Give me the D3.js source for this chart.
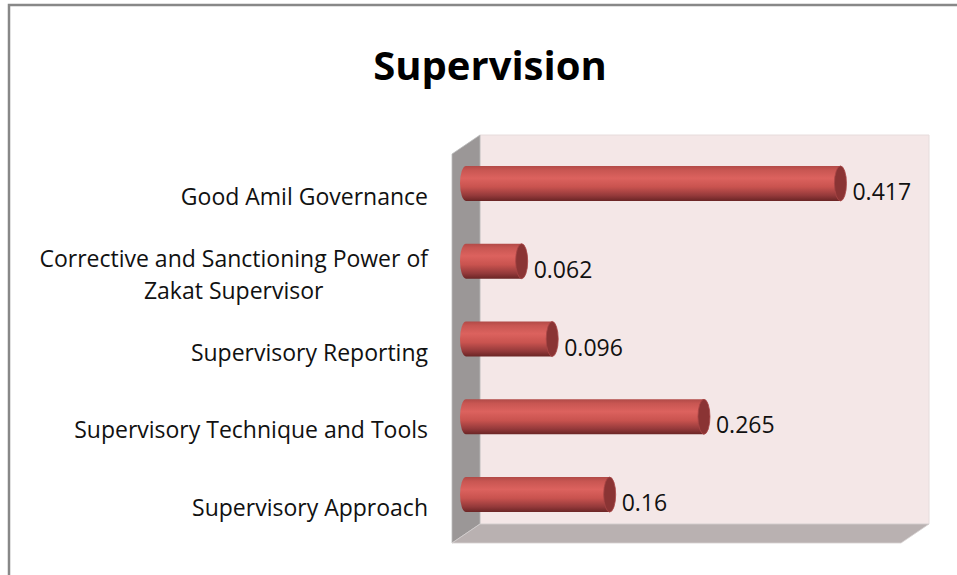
<!DOCTYPE html>
<html lang="en">
<head>
<meta charset="utf-8">
<title>Supervision</title>
<script src="https://d3js.org/d3.v7.min.js"></script>
<style>
  body { margin: 0; background: #fff; }
  .cat_label { font-family: "Open Sans"; font-size: 23px; fill: #111; }
  .val_label { font-family: "Open Sans"; font-size: 23px; fill: #111; }
  .title_styling { font-family: "Open Sans"; font-weight: 700; font-size: 40px; fill: #000; }
</style>
</head>
<body>
<div id="chart"></div>
<script>
const categories = [
  "Good Amil Governance",
  "Corrective and Sanctioning Power of|Zakat Supervisor",
  "Supervisory Reporting",
  "Supervisory Technique and Tools",
  "Supervisory Approach"
];
const values = [0.417, 0.062, 0.096, 0.265, 0.16];
const xDomain = [0, 0.5];

const width = 957, height = 575;
const plotLeft = 452, plotRight = 901, plotTop = 154, plotBottom = 543;
const depthX = 28, depthY = -19;
const barThick = 35, capRx = 6;

const svg = d3.select("#chart").append("svg")
  .attr("width", width).attr("height", height);

// outer frame
svg.append("rect")
  .attr("x", 9).attr("y", 5).attr("width", width + 10).attr("height", height + 10)
  .attr("fill", "#fff").attr("stroke", "#888").attr("stroke-width", 2.5);

const x = d3.scaleLinear().domain(xDomain).range([plotLeft, plotRight]);
const y = d3.scaleBand().domain(categories).range([plotTop, plotBottom]);

const defs = svg.append("defs");
const grad = defs.append("linearGradient").attr("id", "cyl")
  .attr("x1", 0).attr("y1", 0).attr("x2", 0).attr("y2", 1);
[[0, "#b14a47"], [0.12, "#c85652"], [0.35, "#dc625e"], [0.6, "#c9534f"], [0.85, "#93393a"], [1, "#6a2525"]]
  .forEach(s => grad.append("stop").attr("offset", s[0]).attr("stop-color", s[1]));

// walls
const x0 = x(xDomain[0]), x1 = x(xDomain[1]);
svg.append("polygon")
  .attr("points", [[x0 + depthX, plotTop + depthY], [x1 + depthX, plotTop + depthY], [x1 + depthX, plotBottom + depthY], [x0 + depthX, plotBottom + depthY]].join(" "))
  .attr("fill", "#f4e7e7").attr("stroke", "#e6dcdc").attr("stroke-width", 1);
svg.append("polygon")
  .attr("points", [[x0, plotTop], [x0 + depthX, plotTop + depthY], [x0 + depthX, plotBottom + depthY], [x0, plotBottom]].join(" "))
  .attr("fill", "#9b9797").attr("stroke", "#bbb").attr("stroke-width", 0.8);
svg.append("polygon")
  .attr("points", [[x0, plotBottom], [x0 + depthX, plotBottom + depthY], [x1 + depthX, plotBottom + depthY], [x1, plotBottom]].join(" "))
  .attr("fill", "#b9b1b1").attr("stroke", "#d6d0d0").attr("stroke-width", 0.8);

// bars as cylinders
const data = categories.map((c, i) => ({ cat: c, v: values[i] }));
const bars = svg.append("g").selectAll("g").data(data).enter().append("g");

bars.each(function (d) {
  const g = d3.select(this);
  const cy = y(d.cat) + y.bandwidth() / 2 + depthY / 2;
  const left = x(0) + depthX / 2;
  const right = x(d.v) + depthX / 2;
  const r = barThick / 2;
  g.append("path")
    .attr("d", `M${right},${cy - r} L${left},${cy - r} A${capRx},${r} 0 0 0 ${left},${cy + r} L${right},${cy + r} Z`)
    .attr("fill", "url(#cyl)");
  g.append("ellipse")
    .attr("cx", right).attr("cy", cy).attr("rx", capRx).attr("ry", r)
    .attr("fill", "#8a3434").attr("stroke", "#a84545").attr("stroke-width", 0.8);
  g.append("text")
    .attr("class", "val_label")
    .attr("x", right + capRx + 6)
    .attr("y", y(d.cat) + y.bandwidth() / 2 - 1)
    .attr("dy", "0.35em")
    .text(d.v);
});

// category labels
categories.forEach(c => {
  const lines = c.split("|");
  const cy = y(c) + y.bandwidth() / 2 + 4;
  const lh = 32;
  const t = svg.append("text").attr("class", "cat_label").attr("text-anchor", "middle");
  const spans = lines.map((l, i) => t.append("tspan")
    .attr("y", cy + (i - (lines.length - 1) / 2) * lh)
    .attr("dy", "0.35em").text(l));
  const w = d3.max(spans, s => s.node().getComputedTextLength());
  spans.forEach(s => s.attr("x", 428 - w / 2));
});

svg.append("text").attr("class", "title_styling")
  .attr("x", 490).attr("y", 80).attr("text-anchor", "middle")
  .text("Supervision");
</script>
</body>
</html>
